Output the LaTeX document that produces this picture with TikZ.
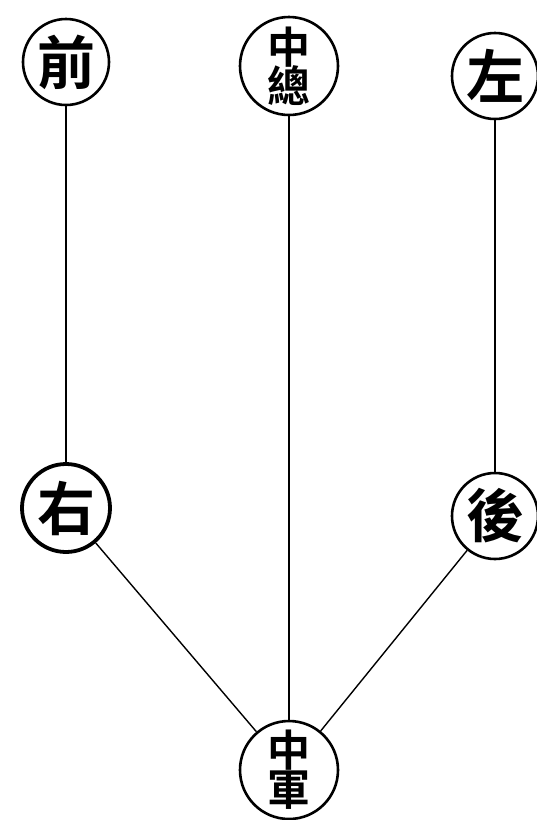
\documentclass[tikz,border=0pt]{standalone}
\usepackage{fontspec}
\newfontfamily\cjk{Noto Sans CJK TC}[BoldFont={Noto Sans CJK TC Bold}]
\begin{document}
\begin{tikzpicture}[x=1pt,y=-1pt,
  ring/.style={circle,draw=black,line width=2.6pt,fill=white,inner sep=0pt,minimum size=#1},
  big/.style={font=\cjk\bfseries\fontsize{58}{58}\selectfont},
  stack/.style={align=center,font=\cjk\bfseries\fontsize{43}{43}\selectfont},
  link/.style={line width=1.4pt,black}]
\useasboundingbox[fill=white] (0,0) rectangle (537,820);
\node[ring=86pt,big] (qian) at (66,62) {前};
\node[ring=98pt,stack] (zz) at (289,66) {中\\[-4pt]總};
\node[ring=86pt,big] (zuo) at (495,76) {左};
\node[ring=88pt,line width=3.8pt,big] (you) at (66,508) {右};
\node[ring=86pt,big] (hou) at (495,516) {後};
\node[ring=98pt,stack] (zj) at (289,770) {中\\[-4pt]軍};
\draw[link,line width=2.2pt] (qian) -- (you);
\draw[link] (zz) -- (zj);
\draw[link] (zuo) -- (hou);
\draw[link] (you) -- (zj);
\draw[link] (hou) -- (zj);
\end{tikzpicture}
\end{document}
